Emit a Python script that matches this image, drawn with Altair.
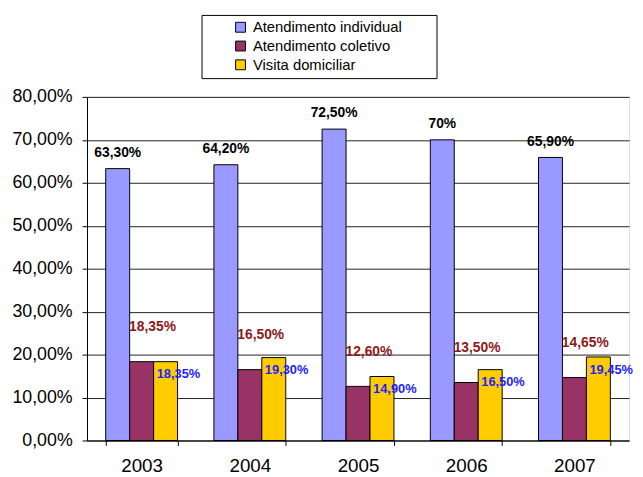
import altair as alt
import pandas as pd

years = ["2003", "2004", "2005", "2006", "2007"]
series = ["Atendimento individual", "Atendimento coletivo", "Visita domiciliar"]
individual = [63.30, 64.20, 72.50, 70.00, 65.90]
coletivo = [18.35, 16.50, 12.60, 13.50, 14.65]
visita = [18.35, 19.30, 14.90, 16.50, 19.45]
individual_labels = ["63,30%", "64,20%", "72,50%", "70%", "65,90%"]
coletivo_labels = ["18,35%", "16,50%", "12,60%", "13,50%", "14,65%"]
visita_labels = ["18,35%", "19,30%", "14,90%", "16,50%", "19,45%"]
colors = ["#9999FF", "#993366", "#FFCC00"]
label_colors = ["#000000", "#8B1A1A", "#1E1EFF"]
y_ticks = [0, 10, 20, 30, 40, 50, 60, 70, 80]

rows = []
for s, vals, labs in zip(series, [individual, coletivo, visita],
                         [individual_labels, coletivo_labels, visita_labels]):
    for yr, v, l in zip(years, vals, labs):
        rows.append({"year": yr, "series": s, "value": v, "label": l})
df = pd.DataFrame(rows)

FONT = "Liberation Sans"

x = alt.X("year:N", sort=years,
          scale=alt.Scale(paddingInner=0.336, paddingOuter=0.173),
          axis=alt.Axis(title=None, labelAngle=0, tickBand="extent",
                        labelFontSize=19, labelPadding=11, tickSize=5,
                        domainColor="black", tickColor="black",
                        labelColor="black", grid=False, labelFont=FONT))
xo = alt.XOffset("series:N", sort=series,
                 scale=alt.Scale(domain=series, paddingInner=0, paddingOuter=0))
y = alt.Y("value:Q", scale=alt.Scale(domain=[0, 80], nice=False),
          axis=alt.Axis(values=y_ticks, title=None,
                        labelExpr="replace(format(datum.value, '.2f'), '.', ',') + '%'",
                        grid=True, gridColor="#222222", gridWidth=1,
                        tickSize=5, tickColor="black", domainColor="black",
                        labelFontSize=18, labelPadding=10, labelColor="black",
                        labelFont=FONT))

bars = alt.Chart(df).mark_bar(stroke="black", strokeWidth=1).encode(
    x=x, xOffset=xo, y=y,
    color=alt.Color("series:N", sort=series,
                    scale=alt.Scale(domain=series, range=colors),
                    legend=alt.Legend(
                        title="\u00a0", titleOrient="right", titlePadding=30,
                        titleFontSize=13,
                        orient="none", legendX=116, legendY=-83,
                        strokeColor="black", fillColor="white", padding=5,
                        symbolOffset=27, labelOffset=5,
                        symbolType="square", symbolSize=100,
                        symbolStrokeColor="black", symbolStrokeWidth=1,
                        labelFontSize=15, labelFont=FONT, labelColor="black",
                        rowPadding=3, labelLimit=400)),
)

label_styles = [(0, -16, 14), (11, -35, 14), (13, 13, 13)]
texts = []
for s, c, (dx, dy, fs) in zip(series, label_colors, label_styles):
    texts.append(
        alt.Chart(df).transform_filter(alt.datum.series == s)
        .mark_text(fontWeight="bold", fontSize=fs, font=FONT, color=c,
                   dx=dx, dy=dy, baseline="middle", align="center")
        .encode(x=x, xOffset=xo, y=y, text="label:N")
    )

chart = alt.layer(bars, *texts).properties(
    width=549, height=348,
    autosize=alt.AutoSizeParams(type="none"),
    padding={"left": 80, "top": 87, "right": 6, "bottom": 38},
).configure_view(stroke="#808080", strokeWidth=1).configure(font=FONT)

chart.save("out.html", embed_options={"renderer": "svg", "actions": False})
